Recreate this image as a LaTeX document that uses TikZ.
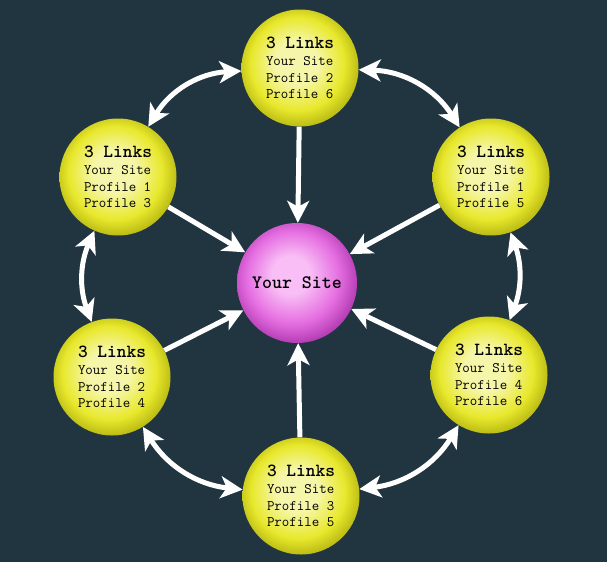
\documentclass[tikz,border=0pt]{standalone}
\usetikzlibrary{arrows.meta}
\definecolor{bgteal}{RGB}{32,53,63}
\definecolor{ylight}{RGB}{246,246,170}
\definecolor{ymid}{RGB}{232,232,45}
\definecolor{yedge}{RGB}{190,190,22}
\definecolor{plight}{RGB}{248,190,245}
\definecolor{pmid}{RGB}{230,112,226}
\definecolor{pedge}{RGB}{180,60,180}
\pgfdeclareradialshading{yellowball}{\pgfpoint{-2bp}{3bp}}{color(0bp)=(ylight); color(9bp)=(ylight); color(20bp)=(ymid); color(26bp)=(yedge); color(50bp)=(yedge)}
\pgfdeclareradialshading{pinkball}{\pgfpoint{-3bp}{4bp}}{color(0bp)=(plight); color(8bp)=(plight); color(19bp)=(pmid); color(27bp)=(pedge); color(50bp)=(pedge)}
\tikzset{
  yball/.style={circle, minimum size=117pt, inner sep=0pt, shading=yellowball, align=left,
    font=\ttfamily\fontsize{14.5}{16.8}\selectfont},
  hubball/.style={circle, minimum size=120pt, inner sep=0pt, shading=pinkball,
    font=\ttfamily\bfseries\fontsize{19}{20}\selectfont},
  link/.style={draw=white, line width=5pt, -{Stealth[length=22pt,width=22pt,inset=6pt]}},
  dlink/.style={draw=white, line width=5pt, {Stealth[length=22pt,width=22pt,inset=6pt]}-{Stealth[length=22pt,width=22pt,inset=6pt]}}
}
\newcommand{\linkhead}{\textbf{\fontsize{18.5}{17}\selectfont 3 Links}}
\begin{document}
\begin{tikzpicture}[x=1pt, y=-1pt]
		%%%%% START %%%%%
		\fill[bgteal] (0, 0) rectangle (607, 562);
		\useasboundingbox (0, 0) rectangle (607, 562);
		
		\node[hubball] (hub) at (297, 283) {Your Site};
		
		\node[yball] (top) at (300, 68) {\linkhead\\Your Site\\Profile 2\\Profile 6};
		\node[yball] (tl) at (118, 177) {\linkhead\\Your Site\\Profile 1\\Profile 3};
		\node[yball] (tr) at (491, 177) {\linkhead\\Your Site\\Profile 1\\Profile 5};
		\node[yball] (bl) at (112, 377) {\linkhead\\Your Site\\Profile 2\\Profile 4};
		\node[yball] (br) at (489, 375) {\linkhead\\Your Site\\Profile 4\\Profile 6};
		\node[yball] (bot) at (301, 496) {\linkhead\\Your Site\\Profile 3\\Profile 5};
		
		\draw[link] (top) -- (hub);
		\draw[link] (tl) -- (hub);
		\draw[link] (tr) -- (hub);
		\draw[link] (bl) -- (hub);
		\draw[link] (br) -- (hub);
		\draw[link] (bot) -- (hub);
		
		\draw[dlink] (top) to[bend right=28] (tl);
		\draw[dlink] (tl) to[bend right=22] (bl);
		\draw[dlink] (bl) to[bend right=26] (bot);
		\draw[dlink] (bot) to[bend right=26] (br);
		\draw[dlink] (br) to[bend right=20] (tr);
		\draw[dlink] (tr) to[bend right=28] (top);
		%%%%% END %%%%%
	\end{tikzpicture}
\end{document}
